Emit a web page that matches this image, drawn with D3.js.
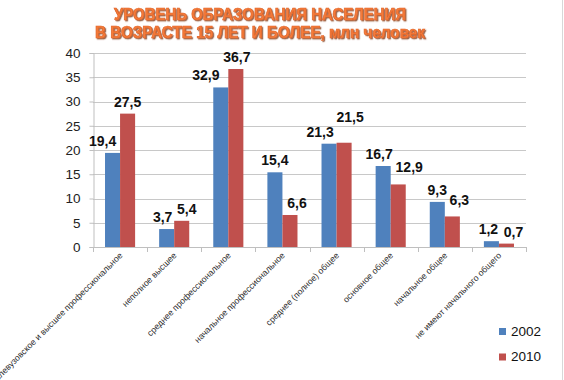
<!DOCTYPE html>
<html><head><meta charset="utf-8">
<script src="https://cdn.jsdelivr.net/npm/d3@7"></script>
<style>html,body{margin:0;padding:0;background:#fff;overflow:hidden}</style>
</head><body>
<svg id="c" width="564" height="380"></svg>
<script>
const categories = ["послевузовское и высшее профессиональное","неполное высшее","среднее профессиональное","начальное профессиональное","среднее (полное) общее","основное общее","начальное общее","не имеют начального общего"];
const series2002 = [19.4, 3.7, 32.9, 15.4, 21.3, 16.7, 9.3, 1.2];
const series2010 = [27.5, 5.4, 36.7, 6.6, 21.5, 12.9, 6.3, 0.7];
const seriesNames = ["2002", "2010"];
const yTicks = [0, 5, 10, 15, 20, 25, 30, 35, 40];
const titleLines = ["УРОВЕНЬ ОБРАЗОВАНИЯ НАСЕЛЕНИЯ", "В ВОЗРАСТЕ 15 ЛЕТ И БОЛЕЕ, млн человек"];
// label nudges (layout only)
const nudgeX2002 = [-10, -4, -15, 0, -9, -4, 0, -3];
const nudgeY2002 = [0, 0, 0, 0, 0, 0, 0, 0];
const nudgeX2010 = [0, 5, 1, 7, 6, 11, 7, 7];
const nudgeY2010 = [0, 0, 0, 0, -14, -5, -4, 0];

const colors = ["#4F81BD", "#C0504D"];
const svg = d3.select("#c");
const M = {l: 93, r: 526, t: 53, b: 247};

const defs = svg.append("defs");
const f = defs.append("filter").attr("id", "tsh").attr("x", "-5%").attr("y", "-20%").attr("width", "110%").attr("height", "150%");
f.append("feDropShadow").attr("dx", 1.2).attr("dy", 1.2).attr("stdDeviation", 0.5)
  .attr("flood-color", "#7a3310").attr("flood-opacity", 0.75);

const x = d3.scaleBand().domain(categories).range([M.l, M.r]).paddingInner(0.444).paddingOuter(0.222);
const x1 = d3.scaleBand().domain(seriesNames).range([0, x.bandwidth()]);
const y = d3.scaleLinear().domain([0, 40]).range([M.b, M.t]);

// right border line
svg.append("line").attr("x1", 562.5).attr("x2", 562.5).attr("y1", 0).attr("y2", 380).attr("stroke", "#d8d8d8");

// gridlines
svg.append("g").selectAll("line").data(yTicks.filter(d => d > 0)).join("line")
  .attr("x1", M.l).attr("x2", M.r).attr("y1", d => Math.round(y(d)) + 0.5).attr("y2", d => Math.round(y(d)) + 0.5)
  .attr("stroke", "#c8c8c8");

// y axis
const yAxis = svg.append("g").attr("transform", `translate(${M.l + 0.5},0)`)
  .call(d3.axisLeft(y).tickValues(yTicks).tickSize(4).tickPadding(9).tickFormat(d3.format("d")));
yAxis.select(".domain").attr("stroke", "#bfbfbf");
yAxis.selectAll(".tick line").attr("stroke", "#bfbfbf");
yAxis.selectAll("text").attr("font-family", "Liberation Sans, Arial, sans-serif").attr("font-size", 13.5).attr("fill", "#222");

// x axis line and boundary ticks
const step = x.step();
svg.append("line").attr("x1", M.l).attr("x2", M.r).attr("y1", M.b + 0.5).attr("y2", M.b + 0.5).attr("stroke", "#bfbfbf");
svg.append("g").selectAll("line").data(d3.range(categories.length + 1)).join("line")
  .attr("x1", i => Math.round(M.l + i * step) + 0.5).attr("x2", i => Math.round(M.l + i * step) + 0.5)
  .attr("y1", M.b).attr("y2", M.b + 5).attr("stroke", "#bfbfbf");

// bars
const data = categories.map((c, i) => ({c, i, vals: [series2002[i], series2010[i]]}));
const g = svg.append("g").selectAll("g").data(data).join("g").attr("transform", d => `translate(${x(d.c)},0)`);
g.selectAll("rect").data(d => d.vals.map((v, k) => ({v, k}))).join("rect")
  .attr("x", d => x1(seriesNames[d.k])).attr("width", x1.bandwidth())
  .attr("y", d => y(d.v)).attr("height", d => y(0) - y(d.v))
  .attr("fill", d => colors[d.k]);

// data labels
const fmt = v => String(v.toFixed(1)).replace(".", ",");
g.selectAll("text").data(d => d.vals.map((v, k) => ({v, k, i: d.i}))).join("text")
  .attr("x", d => x1(seriesNames[d.k]) + x1.bandwidth() / 2 + (d.k === 0 ? nudgeX2002[d.i] : nudgeX2010[d.i]))
  .attr("y", d => y(d.v) - 7 + (d.k === 0 ? nudgeY2002[d.i] : nudgeY2010[d.i]))
  .attr("text-anchor", "middle")
  .attr("font-family", "Liberation Sans, Arial, sans-serif").attr("font-weight", "bold").attr("font-size", 14)
  .attr("fill", "#111")
  .text(d => fmt(d.v));

// category labels
svg.append("g").selectAll("text").data(categories).join("text")
  .attr("transform", c => `translate(${x(c) + x.bandwidth() / 2 + 3},${M.b + 9}) rotate(-45)`)
  .attr("text-anchor", "end")
  .attr("font-family", "Liberation Sans, Arial, sans-serif").attr("font-size", 8.7).attr("fill", "#2a2a2a")
  .text(c => c);

// legend
const lg = svg.append("g").selectAll("g").data(seriesNames).join("g")
  .attr("transform", (d, i) => `translate(499,${328 + i * 25.5})`);
lg.append("rect").attr("width", 7).attr("height", 7).attr("fill", (d, i) => colors[i]);
lg.append("text").attr("x", 12).attr("y", 7.5)
  .attr("font-family", "Liberation Sans, Arial, sans-serif").attr("font-size", 13.5).attr("fill", "#111")
  .text(d => d);

// title
const titleY = [19.5, 37.5];
const titleLen = [292, 330];
svg.append("g").selectAll("text").data(titleLines).join("text")
  .attr("x", 260).attr("y", (d, i) => titleY[i])
  .attr("text-anchor", "middle")
  .attr("font-family", "Liberation Sans, Arial, sans-serif").attr("font-weight", "bold").attr("font-size", 16)
  .attr("fill", "#F47B3A").attr("stroke", "#e0652a").attr("stroke-width", 0.7)
  .attr("filter", "url(#tsh)")
  .attr("textLength", (d, i) => titleLen[i]).attr("lengthAdjust", "spacingAndGlyphs")
  .text(d => d);
</script>
</body></html>
